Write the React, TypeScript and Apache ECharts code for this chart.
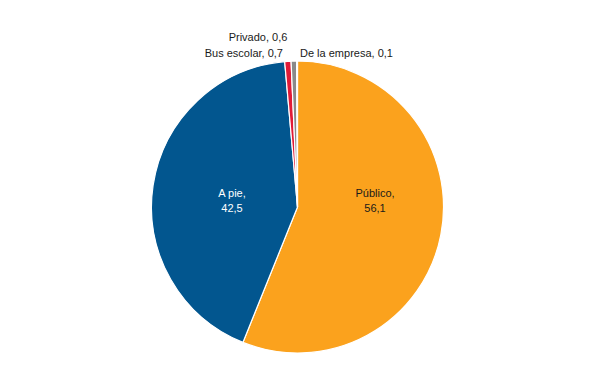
import React, { useEffect, useRef } from "react";
import * as echarts from "echarts";

const categories = ["Público", "A pie", "Bus escolar", "Privado", "De la empresa"];
const values = [56.1, 42.5, 0.7, 0.6, 0.1];
const colors = ["#FBA21D", "#02568F", "#E11B37", "#8A8A8A", "#B5B5B5"];
const labelColors = ["#1a1a1a", "#ffffff", "#1a1a1a", "#1a1a1a", "#1a1a1a"];

const fmt = (v: number) => v.toFixed(1).replace(".", ",");

export default function App() {
  const ref = useRef<HTMLDivElement>(null);
  useEffect(() => {
    if (!ref.current) return;
    const chart = echarts.init(ref.current, undefined, { renderer: "svg" });
    const labelPos: Array<[number, number, string]> = [
      [375, 200, "center"],
      [232, 200, "center"],
      [283, 53, "right"],
      [258, 37, "center"],
      [300, 53, "left"],
    ];
    chart.setOption({
      animation: false,
      backgroundColor: "#ffffff",
      series: [
        {
          type: "pie",
          center: [297.5, 207],
          radius: [0, 146],
          startAngle: 90,
          clockwise: true,
          avoidLabelOverlap: false,
          itemStyle: { borderColor: "#ffffff", borderWidth: 1.2 },
          data: categories.map((c, i) => ({
            name: c,
            value: values[i],
            itemStyle: { color: colors[i] },
            label: {
              show: true,
              position: i < 2 ? "inside" : "outside",
              color: labelColors[i],
              formatter: i < 2 ? `${c},\n${fmt(values[i])}` : `${c}, ${fmt(values[i])}`,
              fontFamily: "Liberation Sans, Arial, sans-serif",
              fontSize: 11,
              lineHeight: 15,
              align: "center",
            },
            labelLine: { show: false },
          })),
          labelLayout: (params: any) => {
            const p = labelPos[params.dataIndex];
            return { x: p[0], y: p[1], align: p[2], verticalAlign: "middle" };
          },
        },
      ],
    });
    return () => chart.dispose();
  }, []);
  return (
    <div
      ref={ref}
      style={{ position: "fixed", left: 0, top: 0, width: 600, height: 391 }}
    />
  );
}
